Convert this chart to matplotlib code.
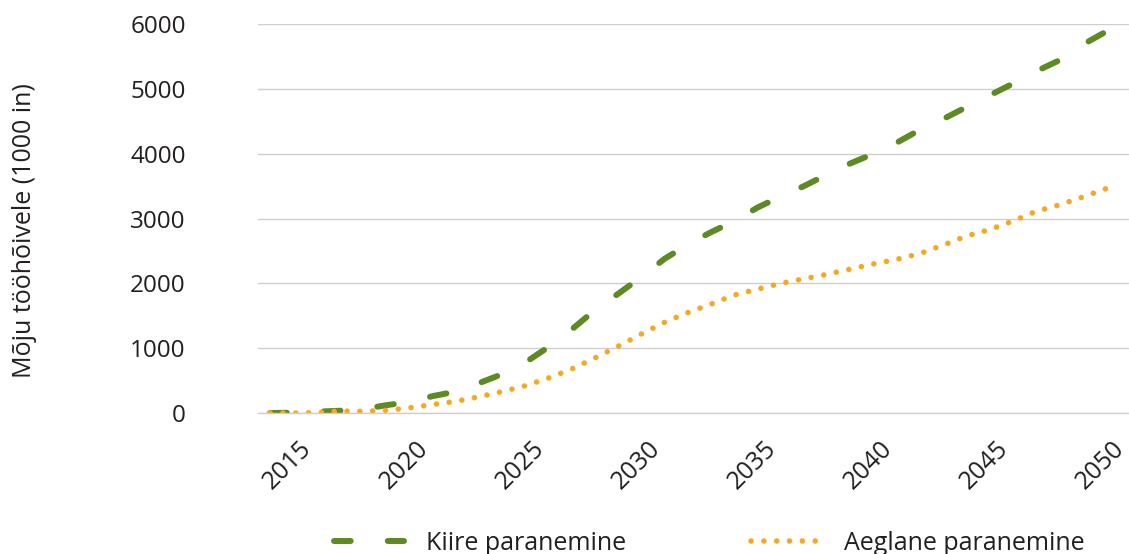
import numpy as np
import matplotlib
matplotlib.use("Agg")
import matplotlib.pyplot as plt
from matplotlib.transforms import ScaledTranslation

plt.rcParams['font.family'] = ['Open Sans', 'DejaVu Sans']

# Data (1000 jobs)
years = list(range(2014, 2051))
kiire = [0, 5, 20, 35, 60, 120, 170, 260, 330, 460, 600, 780, 1020, 1290, 1590,
         1840, 2100, 2380, 2600, 2790, 2960, 3170, 3340, 3500, 3680, 3850, 4000,
         4170, 4370, 4535, 4720, 4900, 5080, 5270, 5440, 5680, 5880]
aeglane = [0, 0, 5, 30, 25, 40, 80, 130, 180, 250, 330, 420, 540, 680, 850,
           1030, 1220, 1400, 1550, 1680, 1820, 1910, 2000, 2070, 2140, 2220, 2300,
           2370, 2460, 2590, 2730, 2830, 2960, 3110, 3210, 3330, 3460]
series_names = ["Kiire paranemine", "Aeglane paranemine"]
tick_years = list(range(2015, 2051, 5))
y_ticks = list(range(0, 6001, 1000))

green = "#5E8A24"
orange = "#F7A823"
text_col = "#231F20"
grid_col = "#CFCFCF"

fig = plt.figure(figsize=(11.29, 5.54), dpi=100)
ax = fig.add_axes([258 / 1129, 1 - 413 / 554, (1129 - 258) / 1129, (413 - 24) / 554])

ax.plot(years, kiire, color=green, lw=4.3, dashes=(2.8, 6.2),
        dash_capstyle='round', label=series_names[0])
ax.plot(years, aeglane, color=orange, lw=4.0, dashes=(0.01, 2.3),
        dash_capstyle='round', label=series_names[1])

ax.set_ylim(0, 6000)
ax.set_xlim(2013.48, 2051.0)
ax.set_yticks(y_ticks)
ax.set_xticks(tick_years)
ax.yaxis.grid(True, color=grid_col, lw=1.0)
ax.set_axisbelow(True)
for s in ["top", "right", "left"]:
    ax.spines[s].set_visible(False)
ax.spines["bottom"].set_color(grid_col)
ax.spines["bottom"].set_linewidth(1.0)
ax.tick_params(axis='y', length=0, labelsize=17.5, labelcolor=text_col, pad=52)
ax.tick_params(axis='x', length=0, labelsize=18, labelcolor=text_col)

# rotated year labels, nudged to sit like the original
offset = ScaledTranslation(6 / 100, -18 / 100, fig.dpi_scale_trans)
for lab in ax.get_xticklabels():
    lab.set_rotation(45)
    lab.set_ha('right')
    lab.set_va('top')
    lab.set_rotation_mode('anchor')
    lab.set_transform(lab.get_transform() + offset)

fig.text(25 / 1129, 1 - 231 / 554, "Mõju tööhõivele (1000 in)", rotation=90,
         ha='center', va='center', fontsize=18, color=text_col)

fig.legend(loc='center', bbox_to_anchor=(709 / 1129, 1 - 543 / 554), ncol=2,
           frameon=False, fontsize=18, handlelength=2.8, handletextpad=0.9,
           columnspacing=5.0, labelcolor=text_col)

fig.savefig("out.png", dpi=100)
